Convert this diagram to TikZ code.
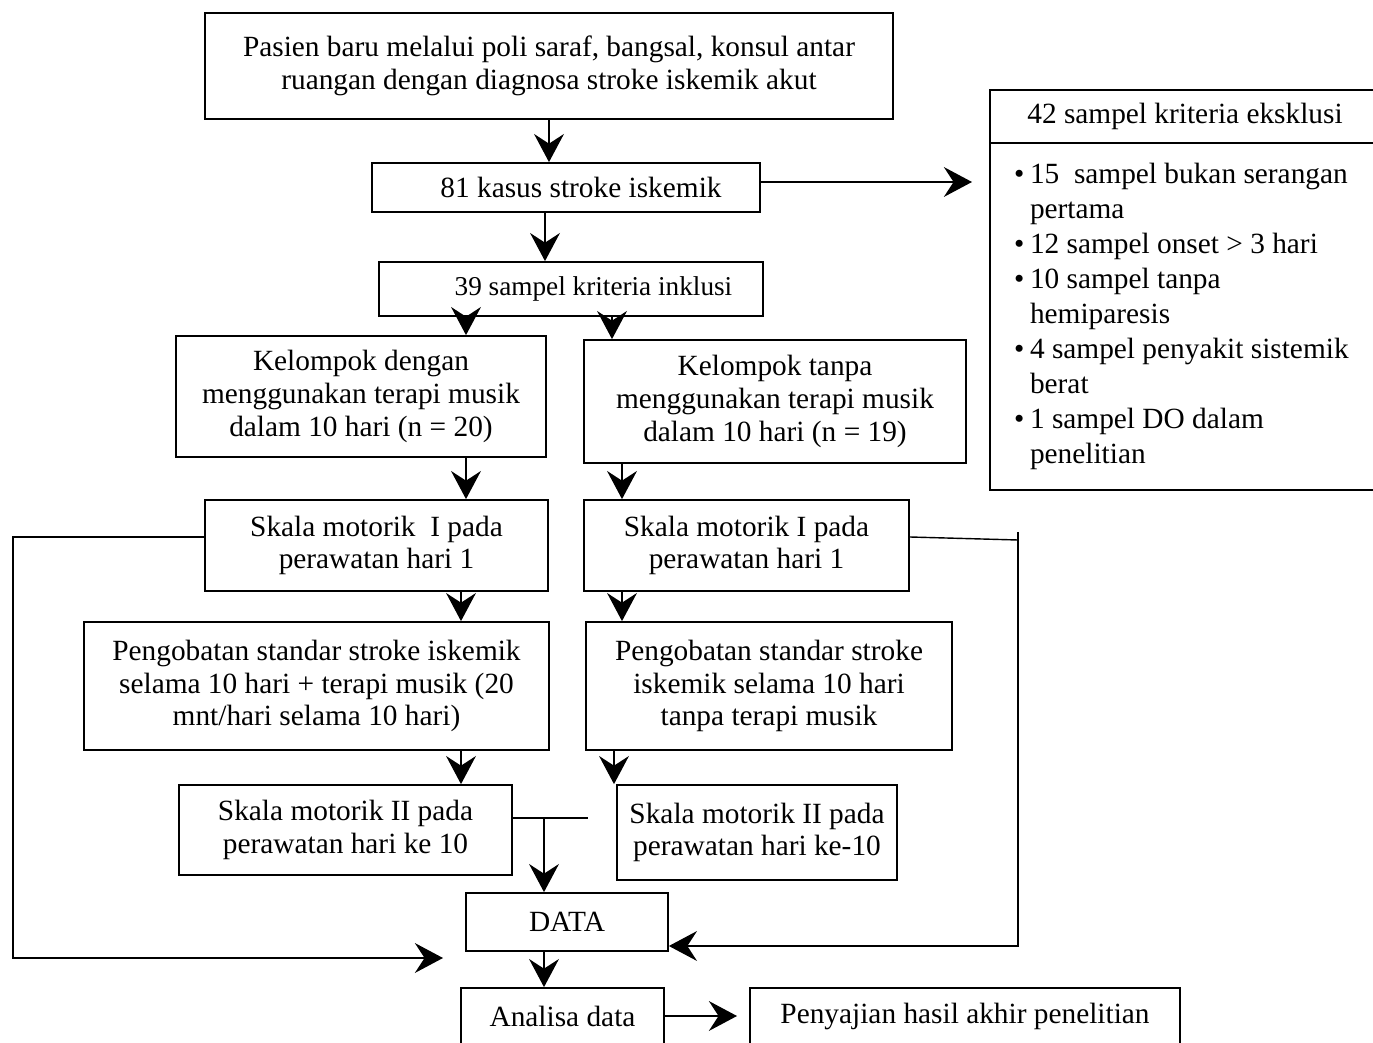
\documentclass[tikz,border=0pt]{standalone}
\usepackage{fontspec}
\setmainfont{Liberation Serif}
\usetikzlibrary{arrows.meta}
\newdimen\pxu \pxu=0.02cm
\newcommand{\bul}{\makebox[0.32cm][l]{\textbullet}}
\newcommand{\ind}{\hspace*{0.32cm}}
\tikzset{
  kotak/.style={draw, line width=1pt, align=center, inner sep=0pt},
}
\begin{document}
\begin{tikzpicture}[x=0.02cm, y=-0.02cm, >={Stealth[length=16pt,width=17pt,inset=5.5pt]},
    font=\fontsize{16.7}{18.7}\selectfont, line width=0.8pt]
\useasboundingbox (0,0) rectangle (1373,1043);
% alur utama
\node[kotak, minimum width=688\pxu, minimum height=106\pxu] (awal) at (549,66)
    {Pasien baru melalui poli saraf, bangsal, konsul antar\\ruangan dengan diagnosa stroke iskemik akut};
\node[kotak, minimum width=388\pxu, minimum height=49\pxu] (kasus) at (566,187.5)
    {\hspace*{0.6cm}81 kasus stroke iskemik};
\node[kotak, minimum width=384\pxu, minimum height=54\pxu, font=\fontsize{15.5}{18}\selectfont] (inklusi) at (571,289)
    {\hspace*{0.9cm}39 sampel kriteria inklusi};
\node[kotak, minimum width=370\pxu, minimum height=121\pxu] (grpA) at (361,396.5)
    {Kelompok dengan\\menggunakan terapi musik\\dalam 10 hari (n = 20)};
\node[kotak, minimum width=382\pxu, minimum height=123\pxu] (grpB) at (775,401.5)
    {Kelompok tanpa\\menggunakan terapi musik\\dalam 10 hari (n = 19)};
\node[kotak, minimum width=343\pxu, minimum height=91\pxu] (skA) at (376.5,545.5)
    {Skala motorik\ \ I pada\\perawatan hari 1};
\node[kotak, minimum width=325\pxu, minimum height=91\pxu] (skB) at (746.5,545.5)
    {Skala motorik I pada\\perawatan hari 1};
\node[kotak, minimum width=465\pxu, minimum height=128\pxu] (terA) at (316.5,686)
    {Pengobatan standar stroke iskemik\\selama 10 hari + terapi musik (20\\mnt/hari selama 10 hari)};
\node[kotak, minimum width=366\pxu, minimum height=128\pxu] (terB) at (769,686)
    {Pengobatan standar stroke\\iskemik selama 10 hari\\tanpa terapi musik};
\node[kotak, minimum width=333\pxu, minimum height=90\pxu] (skIIA) at (345.5,830)
    {Skala motorik II pada\\perawatan hari ke 10};
\node[kotak, minimum width=280\pxu, minimum height=95\pxu] (skIIB) at (757,832.5)
    {Skala motorik II pada\\perawatan hari ke-10};
\node[kotak, minimum width=202\pxu, minimum height=58\pxu] (data) at (567,922) {DATA};
\node[kotak, minimum width=203\pxu, minimum height=56\pxu] (analisa) at (562.5,1016) {Analisa data};
\node[kotak, minimum width=430\pxu, minimum height=56\pxu] (hasil) at (965,1016)
    {Penyajian hasil akhir penelitian};
% kriteria eksklusi
\node[kotak, minimum width=390\pxu, minimum height=53\pxu] (eksH) at (1185,116.5)
    {42 sampel kriteria eksklusi};
\node[kotak, minimum width=420\pxu, minimum height=347\pxu, align=flush left, text width=372\pxu,
    font=\fontsize{16.7}{19.9}\selectfont] (eksB) at (1200,316.5)
    {\bul 15\ \ sampel bukan serangan\\\ind pertama\\\bul 12 sampel onset > 3 hari\\\bul 10 sampel tanpa\\\ind hemiparesis\\\bul 4 sampel penyakit sistemik\\\ind berat\\\bul 1 sampel DO dalam\\\ind penelitian};
\coordinate (keEks) at (972,182);
\coordinate (keDataL) at (443,958);
\coordinate (keHasil) at (737,1016);
% panah
\draw[->] (awal.south) -- (awal.south |- kasus.north);
\draw[->] (kasus.east |- 0,182) -- (keEks);
\draw[->] (545,0 |- kasus.south) -- (545,0 |- inklusi.north);
\draw[->] (466,0 |- inklusi.south) -- (466,0 |- grpA.north);
\draw[->] (612,0 |- inklusi.south) -- (612,0 |- grpB.north);
\draw[->] (466,0 |- grpA.south) -- (466,0 |- skA.north);
\draw[->] (622,0 |- grpB.south) -- (622,0 |- skB.north);
\draw[->] (461,0 |- skA.south) -- (461,0 |- terA.north);
\draw[->] (622,0 |- skB.south) -- (622,0 |- terB.north);
\draw[->] (461,0 |- terA.south) -- (461,0 |- skIIA.north);
\draw[->] (614,0 |- terB.south) -- (614,0 |- skIIB.north);
\draw (skIIA.east |- 0,818) -- (588,818);
\draw[->] (544,818) -- (544,0 |- data.north);
\draw[->] (544,0 |- data.south) -- (544,0 |- analisa.north);
\draw[->] (analisa.east |- keHasil) -- (keHasil);
% garis balik ke data
\draw[->] (skA.west |- 0,537) -- (13,537) -- (13,958) -- (keDataL);
\draw (skB.east |- 0,537) -- (1018,540);
\draw[->] (1018,532) -- (1018,946) -- (data.east |- 0,946);
\end{tikzpicture}
\end{document}
